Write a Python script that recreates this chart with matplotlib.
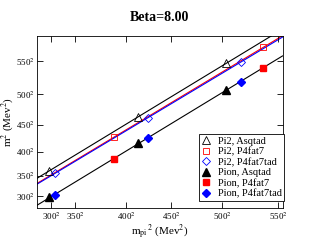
import matplotlib
matplotlib.use('Agg')
import matplotlib.pyplot as plt
import numpy as np

# values in MeV^2
pi2_asqtad_x = [88100, 171000, 253800]
pi2_asqtad_y = [130200, 213900, 298600]
pi2_p4fat7_x = [148500, 288700]
pi2_p4fat7_y = [182600, 323700]
pi2_p4fat7tad_x = [93400, 180900, 267500]
pi2_p4fat7tad_y = [126100, 213300, 300600]
pion_asqtad_x = [88100, 171000, 253800]
pion_asqtad_y = [88500, 173200, 256700]
pion_p4fat7_x = [148500, 288700]
pion_p4fat7_y = [148600, 291700]
pion_p4fat7tad_x = [93400, 180900, 267500]
pion_p4fat7tad_y = [92100, 182000, 269800]

xtick_pos = [90000, 112500, 160000, 202500, 250000, 302500]
xtick_lab = ['300$^2$', '350$^2$', '400$^2$', '450$^2$', '500$^2$', '550$^2$']
ytick_pos = [90000, 122500, 160000, 202500, 250000, 302500]
ytick_lab = ['300$^2$', '350$^2$', '400$^2$', '450$^2$', '500$^2$', '550$^2$']

plt.rcParams['font.family'] = 'Liberation Serif'
plt.rcParams['mathtext.fontset'] = 'stix'

fig = plt.figure(figsize=(3.17, 2.45), dpi=100)
ax = fig.add_axes([0.1158, 0.150, 0.7754, 0.703])

xlim = (76300, 306700)
ylim = (71300, 341400)
xx = np.array(xlim)

# straight-line fits
def fitline(x, y, color):
    p = np.polyfit(x, y, 1)
    ax.plot(xx, np.polyval(p, xx), color=color, lw=0.8, zorder=1)

fitline(pi2_asqtad_x, pi2_asqtad_y, 'black')
fitline(pi2_p4fat7_x, pi2_p4fat7_y, 'red')
fitline(pi2_p4fat7tad_x, pi2_p4fat7tad_y, 'blue')
fitline(pion_asqtad_x + pion_p4fat7_x + pion_p4fat7tad_x,
        pion_asqtad_y + pion_p4fat7_y + pion_p4fat7tad_y, 'black')

ax.plot(pi2_asqtad_x, pi2_asqtad_y, ls='none', marker='^', ms=5.5, mfc='none', mec='black', mew=0.6, label='Pi2, Asqtad')
ax.plot(pi2_p4fat7_x, pi2_p4fat7_y, ls='none', marker='s', ms=5, mfc='none', mec='red', mew=0.6, label='Pi2, P4fat7')
ax.plot(pi2_p4fat7tad_x, pi2_p4fat7tad_y, ls='none', marker='D', ms=4.5, mfc='none', mec='blue', mew=0.6, label='Pi2, P4fat7tad')
ax.plot(pion_asqtad_x, pion_asqtad_y, ls='none', marker='^', ms=5.5, color='black', label='Pion, Asqtad')
ax.plot(pion_p4fat7_x, pion_p4fat7_y, ls='none', marker='s', ms=5, color='red', label='Pion, P4fat7')
ax.plot(pion_p4fat7tad_x, pion_p4fat7tad_y, ls='none', marker='D', ms=4.5, color='blue', label='Pion, P4fat7tad')

ax.set_xlim(xlim)
ax.set_ylim(ylim)
ax.set_xticks(xtick_pos)
ax.set_xticklabels(xtick_lab)
ax.set_yticks(ytick_pos)
ax.set_yticklabels(ytick_lab)
ax.tick_params(direction='in', top=True, right=True, length=4, width=0.6, labelsize=6.5, pad=1.5)
for s in ax.spines.values():
    s.set_linewidth(0.6)

ax.set_xlabel(r'm$_{\rm pi}$$^{\,2}$ (Mev$^{2}$)', fontsize=8)
ax.set_ylabel(r'm$^{2}$ (Mev$^{2}$)', fontsize=8)
ax.xaxis.set_label_coords(0.5, -0.085)
ax.yaxis.set_label_coords(-0.085, 0.5)
ax.set_title('Beta=8.00', fontsize=10, fontweight='bold', pad=11)

leg = ax.legend(loc='lower right', bbox_to_anchor=(1.008, 0.04), fontsize=7.5,
                frameon=True, fancybox=False, edgecolor='black', framealpha=1,
                handlelength=1.0, handletextpad=0.6, borderpad=0.25, labelspacing=0.12,
                borderaxespad=0)
leg.get_frame().set_linewidth(0.6)

fig.savefig('out.png', dpi=100)
